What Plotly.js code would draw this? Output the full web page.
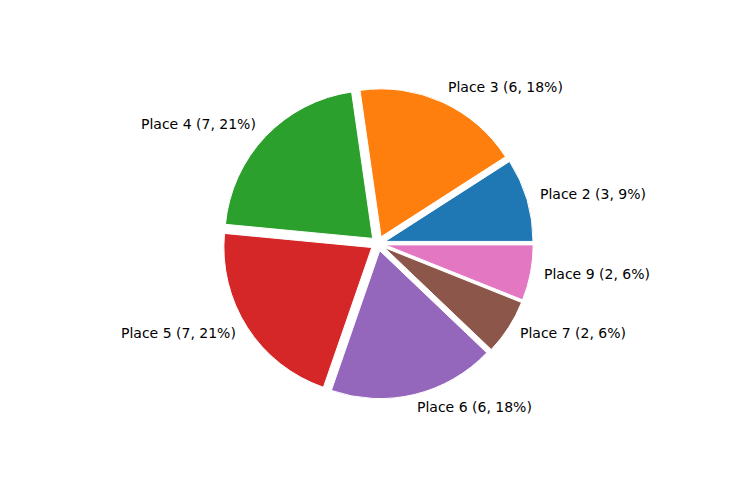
<!DOCTYPE html>
<html>
<head>
<meta charset="utf-8">
<script src="https://cdn.plot.ly/plotly-3.0.1.min.js"></script>
<style>
    html, body { margin: 0; padding: 0; background: #ffffff; }
    #chart { width: 736px; height: 480px; }
</style>
</head>
<body>
<div id="chart"></div>
<script>
const PLACES = ["Place 2", "Place 3", "Place 4", "Place 5", "Place 6", "Place 7", "Place 9"];
const COUNTS = [3, 6, 7, 7, 6, 2, 2];
const SLICE_COLORS = ["#1f77b4", "#ff7f0e", "#2ca02c", "#d62728", "#9467bd", "#8c564b", "#e377c2"];

const WIDTH = 736;
const HEIGHT = 480;
const PULL = 0.05;
// pie centre and outer radius (incl. pull) in pixels
const CENTER_X = 378;
const CENTER_Y = 243.5;
const OUTER_R = 155.3;
const PIE_R = OUTER_R / (1 + PULL);
const LABEL_DISTANCE = 1.1;

const total = COUNTS.reduce((sum, value) => sum + value, 0);
const sliceLabels = PLACES.map((place, index) => {
    const share = Math.round(COUNTS[index] / total * 100);
    return `${place} (${COUNTS[index]}, ${share}%)`;
});

// plotly puts the end of the first slice at the rotation angle when going counterclockwise,
// so shift it back by the first slice's sweep to start at 3 o'clock like matplotlib
const firstSweep = 360 * COUNTS[0] / total;

// labels sit the matplotlib way: 1.1 radius out from the pulled wedge, aligned by side
const annotations = [];
let cumulative = 0;
COUNTS.forEach((count, index) => {
    const mid = (cumulative + count / 2) / total * 2 * Math.PI;
    cumulative += count;
    const dist = (LABEL_DISTANCE + PULL) * PIE_R;
    const dx = dist * Math.cos(mid);
    const dy = dist * Math.sin(mid);
    annotations.push({
        text: sliceLabels[index],
        xref: "paper",
        yref: "paper",
        x: (CENTER_X + dx) / WIDTH,
        y: (HEIGHT - CENTER_Y + dy) / HEIGHT,
        xanchor: dx > 0 ? "left" : "right",
        yanchor: "middle",
        // annotation box padding pushes text outward a few px
        xshift: dx > 0 ? -3 : 3,
        yshift: 2,
        showarrow: false,
        font: { size: 14, color: "#000000" },
    });
});

const half = OUTER_R;
const trace = {
    type: "pie",
    labels: PLACES,
    values: COUNTS,
    text: sliceLabels,
    textinfo: "none",
    hoverinfo: "text",
    sort: false,
    direction: "counterclockwise",
    rotation: 90 - firstSweep,
    pull: COUNTS.map(() => PULL),
    marker: {
        colors: SLICE_COLORS,
        line: { color: "#ffffff", width: 1 },
    },
    showlegend: false,
    automargin: false,
    domain: {
        x: [(CENTER_X - half) / WIDTH, (CENTER_X + half) / WIDTH],
        y: [(HEIGHT - CENTER_Y - half) / HEIGHT, (HEIGHT - CENTER_Y + half) / HEIGHT],
    },
};

Plotly.newPlot("chart", [trace], {
    width: WIDTH,
    height: HEIGHT,
    margin: { t: 0, r: 0, b: 0, l: 0 },
    paper_bgcolor: "#ffffff",
    font: {
        family: "\"DejaVu Sans\", sans-serif",
        color: "#000000",
        size: 14,
    },
    annotations: annotations,
}, {
    displayModeBar: false,
    staticPlot: true,
});
</script>
</body>
</html>
